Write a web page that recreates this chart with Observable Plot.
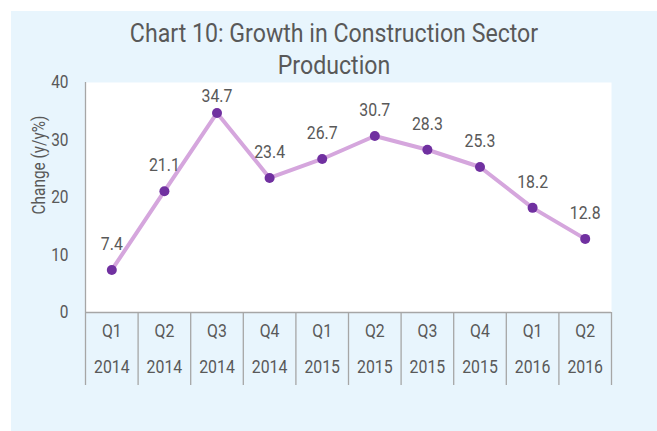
<!DOCTYPE html>
<html>
<head>
<meta charset="utf-8">
<script src="https://cdn.jsdelivr.net/npm/d3@7"></script>
<script src="https://cdn.jsdelivr.net/npm/@observablehq/plot@0.6"></script>
<style>
  html, body { margin: 0; padding: 0; background: #ffffff; }
  #wrap { position: relative; width: 657px; height: 431px; overflow: hidden; font-family: Roboto, "Noto Sans", sans-serif; }
  #bg { position: absolute; left: 11px; top: 11px; width: 646px; height: 420px; background: #E8F5FD; }
  #title { position: absolute; left: 11px; top: 17px; width: 646px; text-align: center; font-size: 26px; font-weight: 400; line-height: 32px; color: #595959; font-family: Roboto, sans-serif; transform: scaleX(0.89); transform-origin: 323px 0; }
  #chart { position: absolute; left: 0; top: 0; }
  #chart svg { background: transparent !important; }
</style>
</head>
<body>
<div id="wrap">
  <div id="bg"></div>
  <div id="chart"></div>
  <div id="title">Chart 10: Growth in Construction Sector<br>Production</div>
</div>
<script>
const quarters = ["Q1","Q2","Q3","Q4","Q1","Q2","Q3","Q4","Q1","Q2"];
const years = ["2014","2014","2014","2014","2015","2015","2015","2015","2016","2016"];
const values = [7.4, 21.1, 34.7, 23.4, 26.7, 30.7, 28.3, 25.3, 18.2, 12.8];
const yTicks = [0, 10, 20, 30, 40];
const yLabel = "Change (y/y%)";

const W = 657, H = 431;
const mL = 85, mR = 46, mT = 82, mB = 119;
const plotH = H - mT - mB;
const yMax = 40;
const pxPerUnit = plotH / yMax;
const catDepth = -73 / pxPerUnit; // extent of the category divider band below zero

const data = values.map((v, i) => ({i, x: i + 0.5, v, q: quarters[i], yr: years[i]}));
const edges = d3.range(quarters.length + 1);

const grey = "#595959";
const lineGrey = "#A6A6A6";
const fs = 18;

const chart = Plot.plot({
  width: W,
  height: H,
  marginLeft: mL,
  marginRight: mR,
  marginTop: mT,
  marginBottom: mB,
  style: {background: "transparent", fontFamily: "Roboto, sans-serif", color: grey},
  x: {domain: [0, quarters.length], axis: null},
  y: {domain: [0, yMax], axis: null},
  marks: [
    Plot.frame({fill: "white", stroke: null}),
    Plot.ruleX(edges, {x: d => d, y1: catDepth, y2: 0, stroke: lineGrey, strokeWidth: 1.3}),
    Plot.ruleX([0], {y1: 0, y2: yMax, stroke: lineGrey, strokeWidth: 1.3}),
    Plot.ruleY([0], {stroke: lineGrey, strokeWidth: 1.3}),
    Plot.text(yTicks, {x: 0, y: d => d, text: d => String(d), textAnchor: "end", dx: -17, fontSize: 17.5, fill: grey}),
    Plot.text([yLabel], {frameAnchor: "left", text: d => d, rotate: -90, dx: -46, dy: 17, fontSize: 17.5, fill: grey}),
    Plot.line(data, {x: "x", y: "v", stroke: "#D5A6DD", strokeWidth: 4, strokeLinejoin: "round"}),
    Plot.dot(data, {x: "x", y: "v", r: 5, fill: "#7030A0", stroke: null}),
    Plot.text(data, {x: "x", y: d => Math.min(d.v, yMax - 40 / pxPerUnit), text: d => d.v.toFixed(1), dy: -26, fontSize: fs, fill: grey}),
    Plot.text(data, {x: "x", frameAnchor: "bottom", text: "q", dy: 24, fontSize: fs, fill: grey}),
    Plot.text(data, {x: "x", frameAnchor: "bottom", text: "yr", dy: 60, fontSize: fs, fill: grey})
  ]
});
document.getElementById("chart").appendChild(chart);

// Condense the glyphs (the reference uses a condensed face)
chart.querySelectorAll("text").forEach(t => {
  const len = t.getComputedTextLength();
  if (len > 0) {
    t.setAttribute("textLength", (len * 0.88).toFixed(2));
    t.setAttribute("lengthAdjust", "spacingAndGlyphs");
  }
});
</script>
</body>
</html>
